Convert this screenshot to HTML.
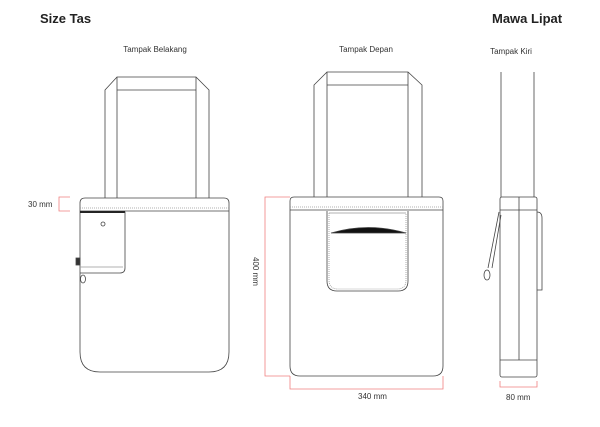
<!DOCTYPE html>
<html><head><style>
body{margin:0;background:#fff;width:600px;height:422px;overflow:hidden;font-family:"Liberation Sans",sans-serif}
</style></head><body>
<svg width="600" height="422" xmlns="http://www.w3.org/2000/svg" font-family="Liberation Sans, sans-serif">
<text x="40" y="23" font-size="13" font-weight="bold" fill="#222">Size Tas</text>
<text x="492" y="23" font-size="13" font-weight="bold" fill="#222">Mawa Lipat</text>
<text x="155" y="52" font-size="8" text-anchor="middle" fill="#333">Tampak Belakang</text>
<text x="366" y="52" font-size="8" text-anchor="middle" fill="#333">Tampak Depan</text>
<text x="511" y="54" font-size="8" text-anchor="middle" fill="#333">Tampak Kiri</text>
<g fill="none" stroke="#444" stroke-width="0.8">
<!-- left bag -->
<path d="M105 198 V90 L117 77 H196 L209 90 V198"/>
<path d="M117 198 V77 M196 198 V77 M117 90 H196"/>
<path d="M80 203 Q80 198 85 198 H224 Q229 198 229 203 V352 Q229 372 209 372 H100 Q80 372 80 352 Z"/>
<line x1="80" y1="208" x2="229" y2="208" stroke-dasharray="1,1" stroke="#999"/>
<line x1="80" y1="211" x2="229" y2="211"/>
<line x1="80" y1="212" x2="125" y2="212" stroke-width="2" stroke="#111"/>
<path d="M80 212 H125 V268 Q125 273 120 273 H80"/>
<line x1="80" y1="267" x2="123" y2="267" stroke="#999"/>
<circle cx="103" cy="224" r="2"/>
<rect x="76" y="258" width="4" height="7" fill="#333"/>
<ellipse cx="83" cy="279" rx="2.5" ry="4"/>
<!-- middle bag -->
<path d="M314 197 V85 L327 72 H408 L422 85 V197"/>
<path d="M327 197 V72 M408 197 V72 M327 85 H408"/>
<path d="M290 201 Q290 197 294 197 H439 Q443 197 443 201 V366 Q443 376 433 376 H300 Q290 376 290 366 Z"/>
<line x1="290" y1="207" x2="443" y2="207" stroke-dasharray="1,1" stroke="#999"/>
<line x1="290" y1="210" x2="443" y2="210"/>
<path d="M327 211 V281 Q327 291 337 291 H398 Q408 291 408 281 V211"/>
<path d="M329 213 V280 Q329 289 338 289 H397 Q406 289 406 280 V213" stroke-dasharray="1,1" stroke="#999"/>
<line x1="329" y1="213" x2="406" y2="213" stroke="#999"/>
<path d="M331 233 Q368 222 406 233 Z" fill="#111"/>
<!-- right -->
<path d="M501 197 V72 M534 197 V72"/>
<rect x="500" y="197" width="37" height="180" rx="2"/>
<line x1="500" y1="210" x2="537" y2="210"/>
<line x1="500" y1="360" x2="537" y2="360"/>
<line x1="519" y1="197" x2="519" y2="360"/>
<path d="M537 212 Q542 212 542 218 V290 H537"/>
<path d="M499 212 L488 268 M501 215 L492 268"/>
<ellipse cx="487" cy="275" rx="3" ry="5"/>
</g>
<g fill="none" stroke="#f08080" stroke-width="0.8">
<path d="M70 197 H59 V211 H70"/>
<path d="M290 197 H265 V376 H290"/>
<path d="M290 376 V389 H443 V376"/>
<path d="M500 381 V387 H537 V381"/>
</g>
<g font-size="8" fill="#333">
<text x="28" y="207">30 mm</text>
<text x="358" y="399">340 mm</text>
<text x="506" y="400">80 mm</text>
<text transform="translate(253,257) rotate(90)">400 mm</text>
</g>
</svg>
</body></html>
